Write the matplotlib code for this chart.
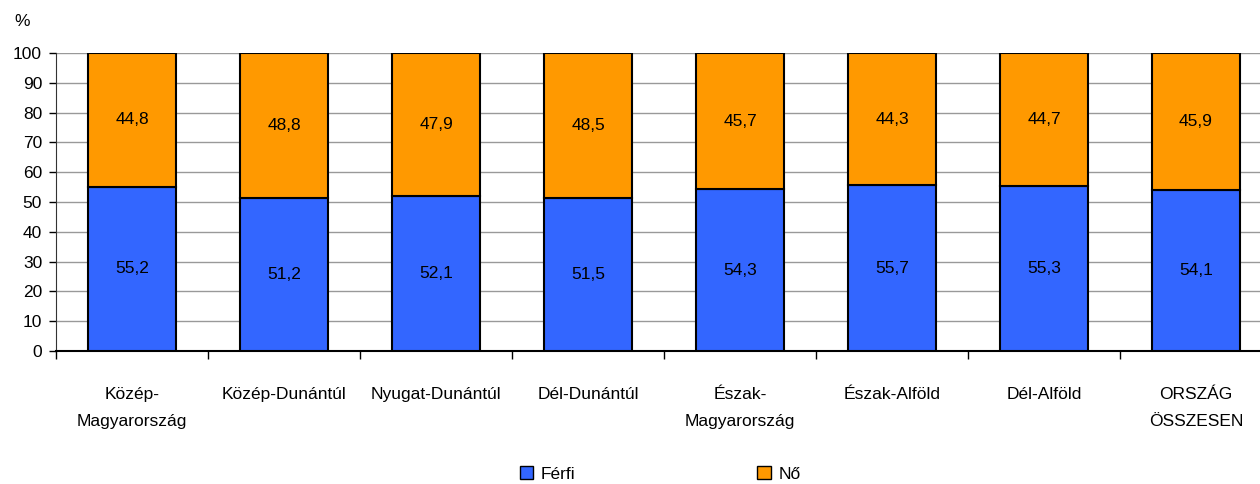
import numpy as np
import matplotlib
matplotlib.use('Agg')
import matplotlib.pyplot as plt
from matplotlib.patches import Patch

plt.rcParams['font.family'] = ['Liberation Sans', 'DejaVu Sans']

regions = ['Közép-\nMagyarország', 'Közép-Dunántúl', 'Nyugat-Dunántúl', 'Dél-Dunántúl',
           'Észak-\nMagyarország', 'Észak-Alföld', 'Dél-Alföld', 'ORSZÁG\nÖSSZESEN']
ferfi = [55.2, 51.2, 52.1, 51.5, 54.3, 55.7, 55.3, 54.1]
no = [44.8, 48.8, 47.9, 48.5, 45.7, 44.3, 44.7, 45.9]
series_names = ['Férfi', 'Nő']

BLUE = '#3366FF'
ORANGE = '#FF9900'

fig = plt.figure(figsize=(12.6, 4.84), dpi=100)
ax = fig.add_axes([56 / 1260, 133 / 484, 1216 / 1260, 298 / 484])

x = np.arange(len(regions))
w = 0.58
ax.bar(x, ferfi, w, color=BLUE, edgecolor='black', linewidth=1.5, zorder=3)
ax.bar(x, no, w, bottom=ferfi, color=ORANGE, edgecolor='black', linewidth=1.5, zorder=3)

# value labels inside each segment
for xi, f, n in zip(x, ferfi, no):
    ax.text(xi, f / 2, f'{f:.1f}'.replace('.', ','), ha='center', va='center', fontsize=12.5, zorder=4)
    ax.text(xi, f + n / 2, f'{n:.1f}'.replace('.', ','), ha='center', va='center', fontsize=12.5, zorder=4)

ax.set_xlim(-0.5, len(regions) - 0.5)
ax.set_ylim(0, 100)
ax.set_yticks(range(0, 101, 10))
ax.tick_params(axis='y', labelsize=12.5, length=5, width=1, pad=5)
ax.yaxis.grid(True, color='#999999', linewidth=1, zorder=0)

ax.set_xticks(x)
ax.set_xticklabels(regions, fontsize=12.5, linespacing=2.0, va='top')
ax.tick_params(axis='x', which='major', length=0, pad=26)
ax.set_xticks(np.arange(-0.5, len(regions), 1), minor=True)
ax.tick_params(axis='x', which='minor', length=6, width=1, direction='out')

for s in ['top', 'right']:
    ax.spines[s].set_visible(False)
ax.spines['left'].set_color('#333333')
ax.spines['bottom'].set_linewidth(1.5)

fig.text(22 / 1260, 1 - 22 / 484, '%', fontsize=12.5, ha='center', va='center')

handles = [Patch(facecolor=BLUE, edgecolor='black'), Patch(facecolor=ORANGE, edgecolor='black')]
fig.legend(handles, series_names, loc='center', bbox_to_anchor=(660 / 1260, 1 - 474 / 484),
           ncol=2, frameon=False, fontsize=12.5, handlelength=0.8, handleheight=0.8,
           handletextpad=0.4, columnspacing=10.5)

fig.savefig('out.png', dpi=100)
